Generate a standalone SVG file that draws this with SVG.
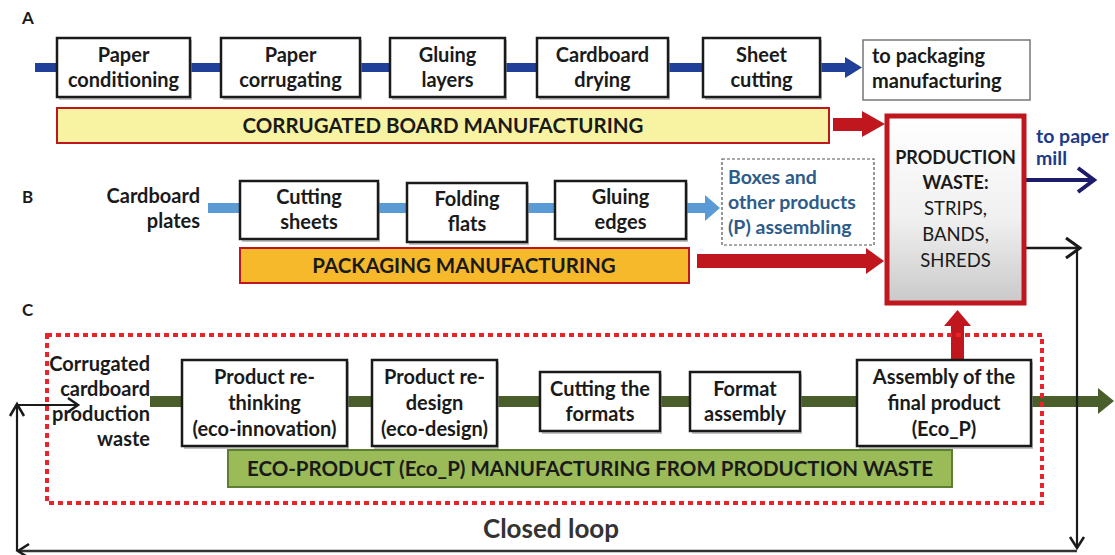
<svg xmlns="http://www.w3.org/2000/svg" width="1115" height="555" viewBox="0 0 1115 555">
<style>
  text { font-family: Lato, "Open Sans", "Liberation Sans", sans-serif; fill: #1a1a1a; }
  .lbl { font-size: 20px; font-weight: bold; text-anchor: middle; }
  .sec { font-size: 17px; font-weight: bold; }
  .bar { font-size: 20.5px; font-weight: bold; text-anchor: middle; }
  .box { fill: #ffffff; stroke: #1a1a1a; stroke-width: 2.5; }
  .shadow { fill: #9a9a9a; opacity: 0.6; }
  .blk { fill: none; stroke: #1a1a1a; stroke-width: 2.2; }
  .pbx { font-size: 19.5px; font-weight: bold; fill: #2e5c8a; }
</style>
<defs>
  <linearGradient id="pwg" x1="0" y1="0" x2="0" y2="1">
    <stop offset="0" stop-color="#ffffff"/>
    <stop offset="0.55" stop-color="#f0f0f0"/>
    <stop offset="1" stop-color="#c9c9c9"/>
  </linearGradient>
</defs>
<rect width="1115" height="555" fill="#ffffff"/>

<!-- section letters -->
<text class="sec" x="22" y="24">A</text>
<text class="sec" x="22" y="203">B</text>
<text class="sec" x="22" y="316">C</text>

<!-- connectors -->
<g id="connectors">
  <rect x="35" y="63" width="815" height="9" fill="#1f3f99"/>
  <polygon points="845,57 862,67.5 845,78" fill="#1f3f99"/>
  <rect x="208" y="203" width="500" height="10" fill="#5b9bd5"/>
  <polygon points="705,195 720,208 705,221" fill="#5b9bd5"/>
  <rect x="150" y="396" width="950" height="11" fill="#4a5e2c"/>
  <polygon points="1098,388 1114,401 1098,414" fill="#4a5e2c"/>
  <rect x="833" y="118" width="32" height="13" fill="#c0171e"/>
  <polygon points="862,111 885,124 862,137" fill="#c0171e"/>
  <rect x="697" y="254" width="172" height="14" fill="#c0171e"/>
  <polygon points="866,248 884,261 866,274" fill="#c0171e"/>
  <rect x="951" y="324" width="13" height="37" fill="#c0171e"/>
  <polygon points="944,326 957.5,310 971,326" fill="#c0171e"/>
  <line x1="1013" y1="180" x2="1092" y2="180" stroke="#1c1c6b" stroke-width="4"/>
  <polyline points="1078,168 1094,180 1078,192" fill="none" stroke="#1c1c6b" stroke-width="4"/>
  <line x1="1012" y1="248" x2="1079" y2="248" stroke="#1a1a1a" stroke-width="2.5"/>
  <polyline points="1066,238 1080,248 1066,258" fill="none" stroke="#1a1a1a" stroke-width="3"/>
  <line x1="1077" y1="248" x2="1077" y2="548" class="blk"/>
  <polyline points="1070,537 1077,548 1084,537" fill="none" stroke="#1a1a1a" stroke-width="2.5"/>
  <line x1="1077" y1="551" x2="18" y2="551" stroke="#333" stroke-width="2.5"/>
  <polyline points="29,544 18,551 29,558" fill="none" stroke="#1a1a1a" stroke-width="2.5"/>
  <line x1="17" y1="551" x2="17" y2="405" class="blk"/>
  <polyline points="10,416 17,404 24,416" fill="none" stroke="#1a1a1a" stroke-width="2.5"/>
  <line x1="17" y1="405" x2="77" y2="405" class="blk"/>
  <polyline points="68,398 78,405 68,412" fill="none" stroke="#1a1a1a" stroke-width="2.5"/>
</g>

<!-- Row A -->
<g id="a1"><rect class="shadow" x="59" y="40" width="133" height="60"/><rect class="box" x="57" y="38" width="133" height="59"/>
  <text class="lbl" x="123.5" y="62">Paper</text><text class="lbl" x="123.5" y="87">conditioning</text></g>
<g id="a2"><rect class="shadow" x="223" y="40" width="139" height="60"/><rect class="box" x="221" y="38" width="139" height="59"/>
  <text class="lbl" x="290.5" y="62">Paper</text><text class="lbl" x="290.5" y="87">corrugating</text></g>
<g id="a3"><rect class="shadow" x="392" y="40" width="115" height="60"/><rect class="box" x="390" y="38" width="115" height="59"/>
  <text class="lbl" x="447.5" y="62">Gluing</text><text class="lbl" x="447.5" y="87">layers</text></g>
<g id="a4"><rect class="shadow" x="539" y="40" width="131" height="60"/><rect class="box" x="537" y="38" width="131" height="59"/>
  <text class="lbl" x="602.5" y="62">Cardboard</text><text class="lbl" x="602.5" y="87">drying</text></g>
<g id="a5"><rect class="shadow" x="705" y="40" width="117" height="60"/><rect class="box" x="703" y="38" width="117" height="59"/>
  <text class="lbl" x="761.5" y="62">Sheet</text><text class="lbl" x="761.5" y="87">cutting</text></g>
<g id="a6"><rect x="863" y="40" width="167" height="60" fill="#ffffff" stroke="#777" stroke-width="1.5"/>
  <text class="lbl" x="872" y="63" style="text-anchor:start">to packaging</text>
  <text class="lbl" x="872" y="88" style="text-anchor:start">manufacturing</text></g>
<g id="barA"><rect x="57" y="108" width="772" height="35" fill="#f8f3a3" stroke="#c0171e" stroke-width="2"/>
  <text class="bar" x="443" y="133">CORRUGATED BOARD MANUFACTURING</text></g>

<!-- Production waste -->
<g id="pw"><rect x="887" y="116" width="137" height="187" fill="url(#pwg)" stroke="#c0171e" stroke-width="5"/>
  <text class="lbl" x="955.5" y="164" style="font-size:18px">PRODUCTION</text>
  <text class="lbl" x="955.5" y="189" style="font-size:18px">WASTE:</text>
  <text x="955.5" y="215" font-size="18.5" text-anchor="middle">STRIPS,</text>
  <text x="955.5" y="241" font-size="18.5" text-anchor="middle">BANDS,</text>
  <text x="955.5" y="267" font-size="18.5" text-anchor="middle">SHREDS</text></g>
<g id="paper-mill"><text x="1036" y="143" font-size="19.5" font-weight="bold" style="fill:#203a8a">to paper</text>
  <text x="1036" y="165" font-size="19.5" font-weight="bold" style="fill:#203a8a">mill</text></g>

<!-- Row B -->
<g id="b0"><text class="lbl" x="200" y="203" style="text-anchor:end">Cardboard</text>
  <text class="lbl" x="200" y="228" style="text-anchor:end">plates</text></g>
<g id="b1"><rect class="shadow" x="242" y="183" width="138" height="59"/><rect class="box" x="240" y="181" width="138" height="58"/>
  <text class="lbl" x="309" y="204">Cutting</text><text class="lbl" x="309" y="229">sheets</text></g>
<g id="b2"><rect class="shadow" x="409" y="185" width="120" height="60"/><rect class="box" x="407" y="183" width="120" height="59"/>
  <text class="lbl" x="467" y="206">Folding</text><text class="lbl" x="467" y="231">flats</text></g>
<g id="b3"><rect class="shadow" x="557" y="183" width="131" height="59"/><rect class="box" x="555" y="181" width="131" height="58"/>
  <text class="lbl" x="620.5" y="204">Gluing</text><text class="lbl" x="620.5" y="229">edges</text></g>
<g id="b4"><rect x="722" y="159" width="152" height="86" fill="#ffffff" stroke="#555" stroke-width="1.2" stroke-dasharray="3,2"/>
  <text class="pbx" x="728" y="184">Boxes and</text>
  <text class="pbx" x="728" y="209">other products</text>
  <text class="pbx" x="728" y="234">(P) assembling</text></g>
<g id="barB"><rect x="240" y="248" width="449" height="35" fill="#f5b92b" stroke="#c0171e" stroke-width="2"/>
  <text class="bar" x="464" y="273">PACKAGING MANUFACTURING</text></g>

<!-- Row C -->
<g id="c-frame"><rect x="47" y="335" width="995" height="168" fill="none" stroke="#e8232a" stroke-width="4" stroke-dasharray="5,4"/></g>
<g id="c0">
  <text class="lbl" x="150" y="371" style="text-anchor:end">Corrugated</text>
  <text class="lbl" x="150" y="396" style="text-anchor:end">cardboard</text>
  <text class="lbl" x="150" y="421" style="text-anchor:end">production</text>
  <text class="lbl" x="150" y="446" style="text-anchor:end">waste</text></g>
<g id="c1"><rect class="shadow" x="184" y="362" width="165" height="87"/><rect class="box" x="182" y="360" width="165" height="86"/>
  <text class="lbl" x="264.5" y="384">Product re-</text><text class="lbl" x="264.5" y="410">thinking</text><text class="lbl" x="264.5" y="436">(eco-innovation)</text></g>
<g id="c2"><rect class="shadow" x="374" y="362" width="125" height="87"/><rect class="box" x="372" y="360" width="125" height="86"/>
  <text class="lbl" x="434.5" y="384">Product re-</text><text class="lbl" x="434.5" y="410">design</text><text class="lbl" x="434.5" y="436">(eco-design)</text></g>
<g id="c3"><rect class="shadow" x="542" y="374" width="120" height="60"/><rect class="box" x="540" y="372" width="120" height="59"/>
  <text class="lbl" x="600" y="396">Cutting the</text><text class="lbl" x="600" y="421">formats</text></g>
<g id="c4"><rect class="shadow" x="692" y="374" width="110" height="60"/><rect class="box" x="690" y="372" width="110" height="59"/>
  <text class="lbl" x="745" y="396">Format</text><text class="lbl" x="745" y="421">assembly</text></g>
<g id="c5"><rect class="shadow" x="859" y="362" width="174" height="87"/><rect class="box" x="857" y="360" width="174" height="86"/>
  <text class="lbl" x="944" y="384">Assembly of the</text><text class="lbl" x="944" y="410">final product</text><text class="lbl" x="944" y="436">(Eco_P)</text></g>
<g id="barC"><rect x="228" y="450" width="724" height="37" fill="#9bbb59" stroke="#5e7e33" stroke-width="2"/>
  <text class="bar" x="590" y="476">ECO-PRODUCT (Eco_P) MANUFACTURING FROM PRODUCTION WASTE</text></g>

<g id="closed-loop"><text x="551" y="538" font-size="26" font-weight="bold" text-anchor="middle" style="fill:#333">Closed loop</text></g>
</svg>
